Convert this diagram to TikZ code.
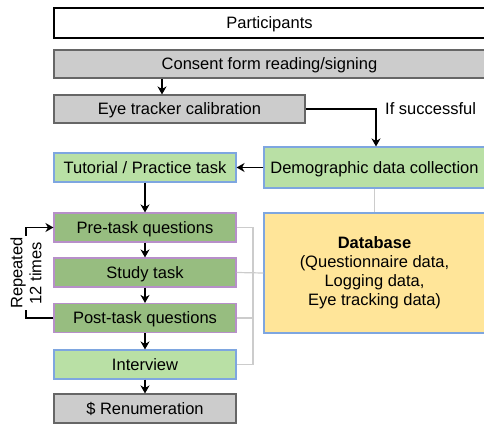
\documentclass[tikz,border=0pt]{standalone}
\usepackage{fontspec}
\setmainfont{Liberation Sans}
\usetikzlibrary{arrows.meta}

\definecolor{boxgray}{HTML}{CCCCCC}
\definecolor{edgegray}{HTML}{666666}
\definecolor{lightgreen}{HTML}{B9E0A5}
\definecolor{darkgreen}{HTML}{97BD80}
\definecolor{edgeblue}{HTML}{7EA6E0}
\definecolor{edgepurple}{HTML}{B78FC9}
\definecolor{dbyellow}{HTML}{FFE599}
\definecolor{linkgray}{HTML}{CCCCCC}

\begin{document}
\begin{tikzpicture}[x=1pt, y=-1pt,
    every node/.style={font=\fontsize{16.5}{19}\selectfont, inner sep=0pt},
    onerow/.style={text height=11pt, text depth=0pt},
    stagebox/.style={onerow, draw=edgegray, fill=boxgray, line width=1.1pt, minimum height=28pt},
    lightbox/.style={onerow, draw=edgeblue, fill=lightgreen, line width=1.1pt, minimum height=29pt, minimum width=182pt},
    taskbox/.style={onerow, draw=edgepurple, fill=darkgreen, line width=1.1pt, minimum height=29pt, minimum width=182pt},
    flow/.style={line width=1.2pt, -{Stealth[length=8pt, width=9pt, inset=2.5pt]}},
    link/.style={linkgray, line width=1.2pt}]
        \useasboundingbox (0,0) rectangle (484,425);

        % Top rows
        \node[onerow, draw, line width=1.1pt, fill=white, minimum width=431pt, minimum height=30pt] (participants) at (269.5,23) {Participants};
        \node[stagebox, minimum width=431pt] (consent) at (269.5,64) {Consent form reading/signing};
        \node[stagebox, minimum width=251pt] (calibration) at (179.5,109) {Eye tracker calibration};

        % Right column
        \node[lightbox, minimum width=221pt, minimum height=41pt] (demographic) at (374.5,167.5) {Demographic data collection};
        \node[draw=edgeblue, fill=dbyellow, line width=1.1pt, minimum width=221pt, minimum height=120pt, align=center] (database) at (374.5,273)
            {\textbf{Database}\\(Questionnaire data,\\Logging data,\\Eye tracking data)};

        % Left column
        \node[lightbox] (tutorial) at (145,167.5) {Tutorial / Practice task};
        \node[taskbox] (pretask) at (145,227.5) {Pre-task questions};
        \node[taskbox] (study) at (145,272.5) {Study task};
        \node[taskbox] (posttask) at (145,318) {Post-task questions};
        \node[lightbox] (interview) at (145,364.5) {Interview};
        \node[stagebox, minimum width=182pt, minimum height=29pt] (renumeration) at (145,408.5) {\$ Renumeration};

        % Flow arrows
        \draw[flow] (consent.south -| 162,0) -- (calibration.north -| 162,0);
        \draw[flow] (calibration.east) -- (376,109) -- (demographic.north -| 376,0);
        \node[onerow, anchor=west] (success) at (385,109) {If successful};
        \draw[flow] (demographic.west) -- (tutorial.east);
        \draw[flow] (tutorial) -- (pretask);
        \draw[flow] (pretask) -- (study);
        \draw[flow] (study) -- (posttask);
        \draw[flow] (posttask) -- (interview);
        \draw[flow] (interview) -- (renumeration);

        % Repeat loop
        \draw[flow] (posttask.west) -- (26,318) -- (26,227.5) -- (pretask.west);
        \node[rotate=90, fill=white, align=center, inner sep=1pt] (repeat) at (26,273) {Repeated\\12 times};

        % Links to database
        \coordinate (bus) at (253,227.5);
        \draw[link] (demographic) -- (database);
        \draw[link] (pretask.east) -- (bus) -- (bus |- interview.east) -- (interview.east);
        \draw[link] (posttask.east) -- (posttask.east -| bus);
        \draw[link] (study.east) -- (database.west);
    \end{tikzpicture}
\end{document}
